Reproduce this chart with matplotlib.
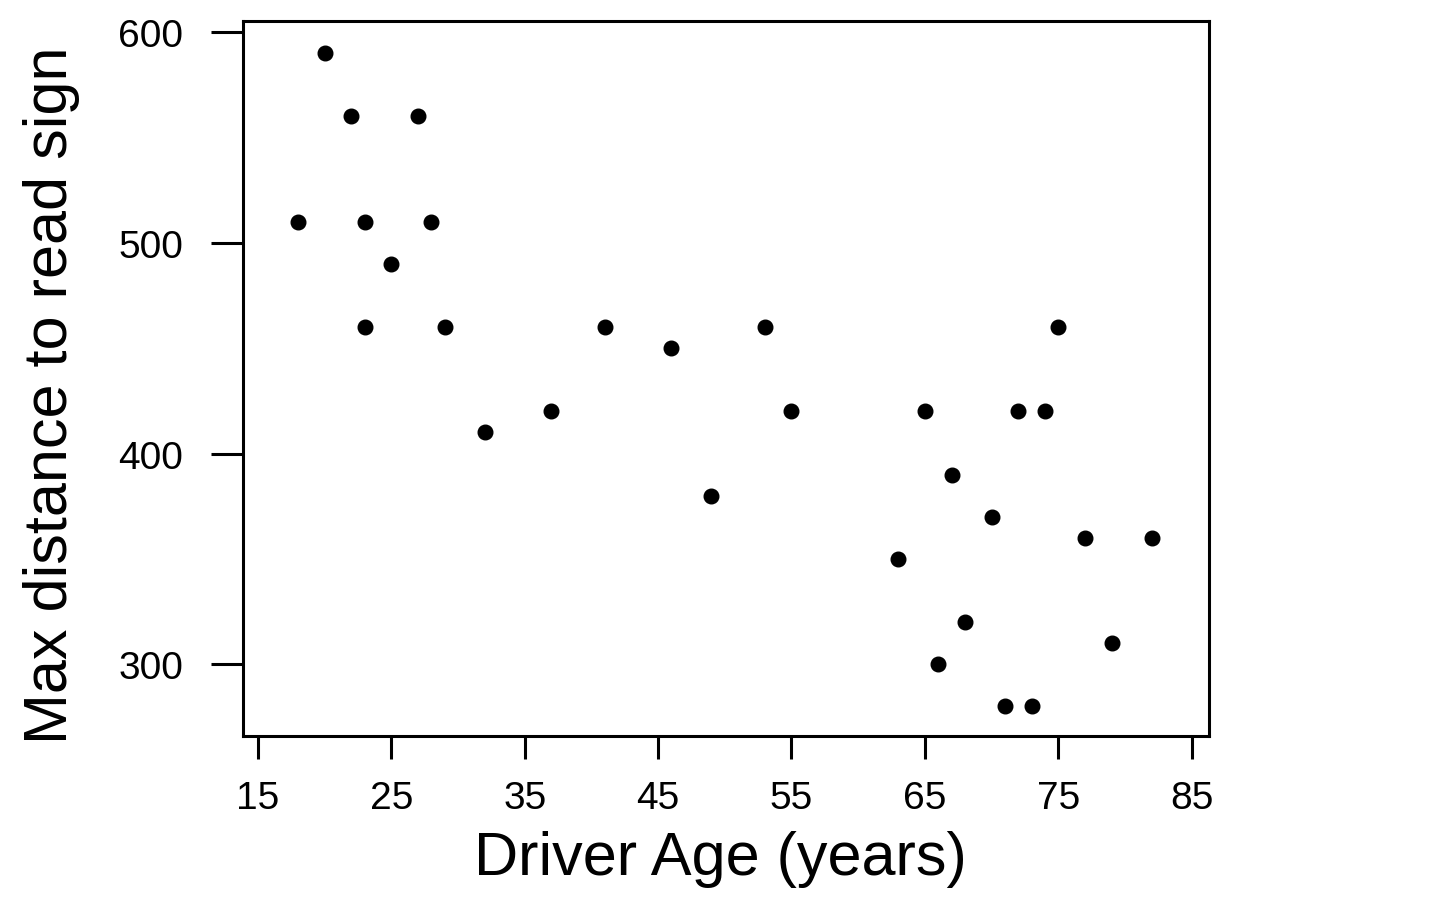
import matplotlib.pyplot as plt

# driver age vs. max distance to read a highway sign
age = [18, 20, 22, 23, 23, 25, 27, 28, 29, 32, 37, 41, 46, 49, 53,
       55, 63, 65, 66, 67, 68, 70, 71, 72, 73, 74, 75, 77, 79, 82]
distance = [510, 590, 560, 510, 460, 490, 560, 510, 460, 410, 420, 460, 450, 380, 460,
            420, 350, 420, 300, 390, 320, 370, 280, 420, 280, 420, 460, 360, 310, 360]

x_ticks = [15, 25, 35, 45, 55, 65, 75, 85]
y_ticks = [300, 400, 500, 600]

plt.rcParams['font.family'] = ['Liberation Sans', 'DejaVu Sans']

fig = plt.figure(figsize=(14.4, 9.04), dpi=100)
ax = fig.add_axes([243 / 1440, 1 - 737 / 904, (1209 - 243) / 1440, (737 - 22) / 904])

ax.plot(age, distance, 'o', color='black', markersize=10.5, linestyle='none')

ax.set_xlim(13.88, 86.3)
ax.set_ylim(266, 605.2)
ax.set_xticks(x_ticks)
ax.set_yticks(y_ticks)

for s in ax.spines.values():
    s.set_linewidth(2.2)

ax.tick_params(axis='y', direction='out', length=23, width=2.2, pad=20, labelsize=28)
ax.tick_params(axis='x', direction='out', length=16.5, width=2.2, pad=15, labelsize=28)

ax.set_xlabel('Driver Age (years)', fontsize=44)
ax.set_ylabel('Max distance to read sign', fontsize=44)
ax.xaxis.set_label_coords(0.494, -0.132)
ax.yaxis.set_label_coords(-0.169, 0.478)

fig.savefig('out.png', dpi=100)
